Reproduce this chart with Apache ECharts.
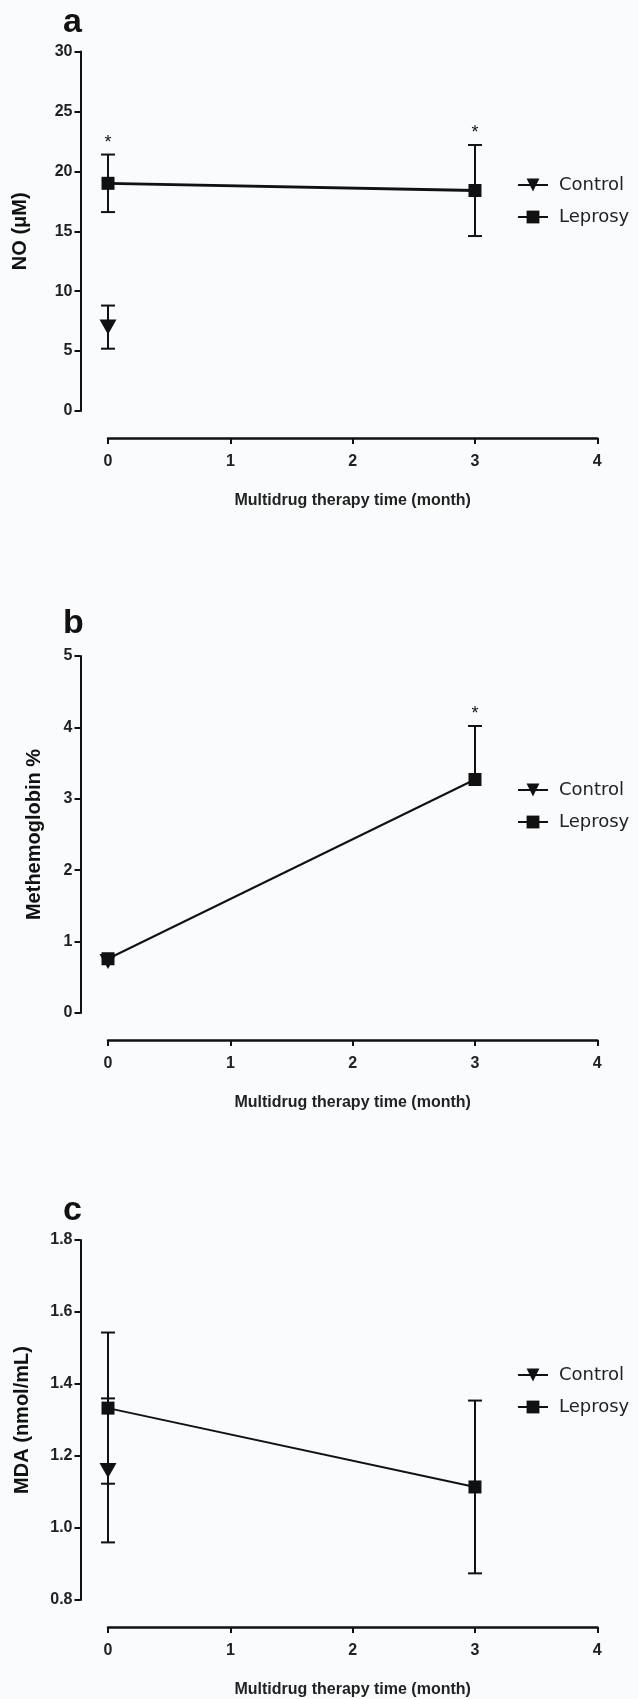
<!DOCTYPE html>
<html>
<head>
<meta charset="utf-8">
<script src="https://cdn.jsdelivr.net/npm/echarts@6/dist/echarts.min.js"></script>
<style>
  html, body { margin: 0; padding: 0; background: #fafbfd; }
  #main { width: 638px; height: 1699px; }
</style>
</head>
<body>
<div id="main"></div>
<script>
const months = [0, 3]

// a: NO (uM)
const noControl = [7.0]
const noControlSd = [1.8]
const noLeprosy = [19.0, 18.4]
const noLeprosySd = [2.4, 3.8]
const noStars = [true, true]

// b: Methemoglobin %
const metControl = [0.72]
const metLeprosy = [0.76, 3.27]
const metLeprosyUp = [0, 0.75]
const metStars = [false, true]

// c: MDA (nmol/mL)
const mdaControl = [1.16]
const mdaControlSd = [0.2]
const mdaLeprosy = [1.333, 1.114]
const mdaLeprosySd = [0.21, 0.24]

const black = '#111'
const font = 'Liberation Sans'
const downTriangle = 'path://M0,0 L10,0 L5,9 Z'

const panels = [
  { letter: 'a', top: 51.5, height: 359.5, name: 'NO (μM)', nameGap: 50, min: 0, max: 30, interval: 5, digits: 0, letterY: 26, legendTop: 171 },
  { letter: 'b', top: 656, height: 357, name: 'Methemoglobin %', nameGap: 36, min: 0, max: 5, interval: 1, digits: 0, letterY: 627, legendTop: 776 },
  { letter: 'c', top: 1240, height: 360, name: 'MDA (nmol/mL)', nameGap: 48, min: 0.8, max: 1.8, interval: 0.2, digits: 1, letterY: 1214, legendTop: 1361 }
]

// error bar points: [x, mean, low, high, star]
function barData(mean, up, down, stars) {
  return mean.map(function (m, i) {
    return [months[i], m, m - (down ? down[i] : 0), m + (up ? up[i] : 0), stars && stars[i] ? 1 : 0]
  })
}

function renderError(params, api) {
  let x = api.value(0), mean = api.value(1), lo = api.value(2), hi = api.value(3), star = api.value(4)
  let pHi = api.coord([x, hi])
  let pLo = api.coord([x, lo])
  let yMean = api.coord([x, mean])[1]
  let w = 7
  let style = { stroke: black, lineWidth: 2 }
  let children = []
  if (hi > mean) {
    children.push({ type: 'line', shape: { x1: pHi[0], y1: pHi[1], x2: pHi[0], y2: yMean }, style: style })
    children.push({ type: 'line', shape: { x1: pHi[0] - w, y1: pHi[1], x2: pHi[0] + w, y2: pHi[1] }, style: style })
  }
  if (lo < mean) {
    children.push({ type: 'line', shape: { x1: pLo[0], y1: pLo[1], x2: pLo[0], y2: yMean }, style: style })
    children.push({ type: 'line', shape: { x1: pLo[0] - w, y1: pLo[1], x2: pLo[0] + w, y2: pLo[1] }, style: style })
  }
  if (star) {
    children.push({ type: 'text', x: pHi[0], y: pHi[1] - 12, style: { text: '*', fill: black, font: '18px ' + font, align: 'center', verticalAlign: 'middle' } })
  }
  return { type: 'group', children: children }
}

const seriesData = [
  { control: noControl, cUp: noControlSd, cDown: noControlSd, leprosy: noLeprosy, lUp: noLeprosySd, lDown: noLeprosySd, stars: noStars, width: 2.8 },
  { control: metControl, cUp: null, cDown: null, leprosy: metLeprosy, lUp: metLeprosyUp, lDown: null, stars: metStars, width: 2 },
  { control: mdaControl, cUp: mdaControlSd, cDown: mdaControlSd, leprosy: mdaLeprosy, lUp: mdaLeprosySd, lDown: mdaLeprosySd, stars: null, width: 2 }
]

let grid = [], xAxis = [], yAxis = [], legend = [], series = [], graphic = []

panels.forEach(function (p, i) {
  grid.push({ left: 108, right: 40.7, top: p.top, height: p.height })
  xAxis.push({
    gridIndex: i, type: 'value', min: 0, max: 4, interval: 1, offset: 27,
    name: 'Multidrug therapy time (month)', nameLocation: 'middle', nameGap: 55,
    nameTextStyle: { fontFamily: font, fontWeight: 'bold', fontSize: 16, color: '#222' },
    axisLine: { show: true, onZero: false, lineStyle: { color: black, width: 2.5 } },
    axisTick: { show: true, length: 6, lineStyle: { color: black, width: 2 } },
    axisLabel: { margin: 16, fontFamily: font, fontWeight: 'bold', fontSize: 16, color: '#222' },
    splitLine: { show: false }
  })
  yAxis.push({
    gridIndex: i, type: 'value', min: p.min, max: p.max, interval: p.interval, offset: 27.5,
    name: p.name, nameLocation: 'middle', nameGap: p.nameGap, nameRotate: 90,
    nameTextStyle: { fontFamily: font, fontWeight: 'bold', fontSize: 20, color: '#111' },
    axisLine: { show: true, onZero: false, lineStyle: { color: black, width: 2 } },
    axisTick: { show: true, length: 6, lineStyle: { color: black, width: 2 } },
    axisLabel: {
      margin: 8, fontFamily: font, fontWeight: 'bold', fontSize: 16, color: '#222',
      formatter: function (v) { return v.toFixed(p.digits) }
    },
    splitLine: { show: false }
  })
  legend.push({
    orient: 'vertical', left: 512, top: p.legendTop, itemWidth: 30, itemHeight: 16, itemGap: 14,
    data: ['Control', 'Leprosy'],
    textStyle: { fontFamily: 'DejaVu Sans', fontSize: 18, color: '#222', padding: [0, 0, 0, 6] }
  })
  graphic.push({
    type: 'text', left: 63, top: p.letterY - 20,
    style: { text: p.letter, font: 'bold 34px ' + font, fill: black }
  })

  let d = seriesData[i]
  series.push({
    name: 'Control', type: 'line', xAxisIndex: i, yAxisIndex: i,
    data: d.control.map(function (v, k) { return [months[k], v] }),
    symbol: downTriangle, symbolSize: [17, 15], color: black, z: 4,
    lineStyle: { color: black, width: d.width }, itemStyle: { color: black }
  })
  series.push({
    name: 'Leprosy', type: 'line', xAxisIndex: i, yAxisIndex: i,
    data: d.leprosy.map(function (v, k) { return [months[k], v] }),
    symbol: 'rect', symbolSize: 13, color: black, z: 4,
    lineStyle: { color: black, width: d.width }, itemStyle: { color: black }
  })
  series.push({
    type: 'custom', xAxisIndex: i, yAxisIndex: i, z: 3,
    data: barData(d.control, d.cUp, d.cDown, null),
    renderItem: renderError
  })
  series.push({
    type: 'custom', xAxisIndex: i, yAxisIndex: i, z: 3,
    data: barData(d.leprosy, d.lUp, d.lDown, d.stars),
    renderItem: renderError
  })
})

let myChart = echarts.init(document.getElementById('main'))
myChart.setOption({
  backgroundColor: '#fafbfd',
  animation: false,
  grid: grid,
  xAxis: xAxis,
  yAxis: yAxis,
  legend: legend,
  graphic: graphic,
  series: series
})
</script>
</body>
</html>
